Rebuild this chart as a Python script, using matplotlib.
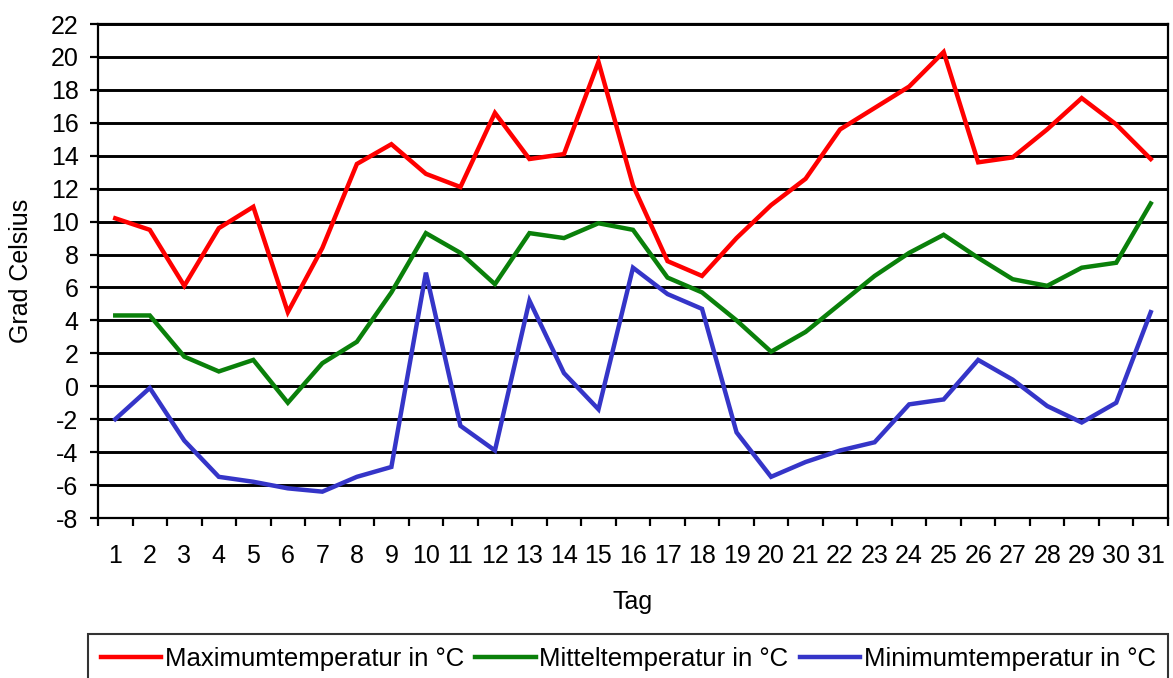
import matplotlib
matplotlib.use("Agg")
import matplotlib.pyplot as plt
import numpy as np

days = list(range(1, 32))

t_max = [10.2, 9.5, 6.1, 9.6, 10.9, 4.5, 8.4, 13.5, 14.7, 12.9, 12.1, 16.6, 13.8, 14.1, 19.7, 12.2,
         7.6, 6.7, 9.0, 11.0, 12.6, 15.6, 16.9, 18.2, 20.3, 13.6, 13.9, 15.6, 17.5, 15.9, 13.8]
t_mean = [4.3, 4.3, 1.8, 0.9, 1.6, -1.0, 1.4, 2.7, 5.7, 9.3, 8.1, 6.2, 9.3, 9.0, 9.9, 9.5,
          6.6, 5.7, 4.0, 2.1, 3.3, 5.0, 6.7, 8.1, 9.2, 7.8, 6.5, 6.1, 7.2, 7.5, 11.1]
t_min = [-2.0, -0.1, -3.3, -5.5, -5.8, -6.2, -6.4, -5.5, -4.9, 6.9, -2.4, -3.9, 5.2, 0.8, -1.4, 7.2,
         5.6, 4.7, -2.8, -5.5, -4.6, -3.9, -3.4, -1.1, -0.8, 1.6, 0.4, -1.2, -2.2, -1.0, 4.5]

series_labels = ["Maximumtemperatur in °C", "Mitteltemperatur in °C", "Minimumtemperatur in °C"]
series_colors = ["#ff0000", "#0a800a", "#3535c8"]
y_ticks = list(range(-8, 23, 2))

plt.rcParams["font.family"] = ["Liberation Sans", "DejaVu Sans"]

W, H = 1173, 678
fig = plt.figure(figsize=(W / 100, H / 100), dpi=100)
ax = fig.add_axes([98 / W, 1 - 518 / H, (1168 - 98) / W, (518 - 24) / H])

for values, label, color in zip([t_max, t_mean, t_min], series_labels, series_colors):
    ax.plot(days, values, color=color, lw=3.2, label=label, solid_joinstyle="miter", zorder=3)

ax.set_xlim(0.5, 31.5)
ax.set_ylim(-8, 22)

ax.set_yticks(y_ticks)
ax.set_yticklabels([str(v) for v in y_ticks], fontsize=18)
ax.yaxis.grid(True, color="black", lw=2.1, zorder=1)
ax.set_axisbelow(True)
ax.tick_params(axis="y", direction="out", length=6, width=1.6, pad=8, color="black")

ax.set_xticks(days)
ax.set_xticklabels([str(d) for d in days], fontsize=18)
ax.set_xticks(np.arange(0.5, 32, 1), minor=True)
ax.tick_params(axis="x", which="major", length=0, pad=19)
ax.tick_params(axis="x", which="minor", direction="out", length=6, width=1.6, color="black")

for side in ["left", "right", "bottom", "top"]:
    ax.spines[side].set_linewidth(1.6)
    ax.spines[side].set_color("black")

ax.set_ylabel("Grad Celsius", fontsize=18)
ax.yaxis.set_label_coords(-0.061, 0.5)
ax.set_xlabel("Tag", fontsize=18)
ax.xaxis.set_label_coords(0.5, -0.145)

leg = fig.legend(loc="upper left", bbox_to_anchor=(88 / W, 1 - 634 / H), bbox_transform=fig.transFigure,
                 ncol=3, fontsize=18.5, frameon=True, fancybox=False, edgecolor="black",
                 borderaxespad=0, borderpad=0.5, handlelength=2.35, handletextpad=0.13,
                 columnspacing=0.45)
leg.get_frame().set_linewidth(1.5)

fig.savefig("out.png", dpi=100, facecolor="white")
